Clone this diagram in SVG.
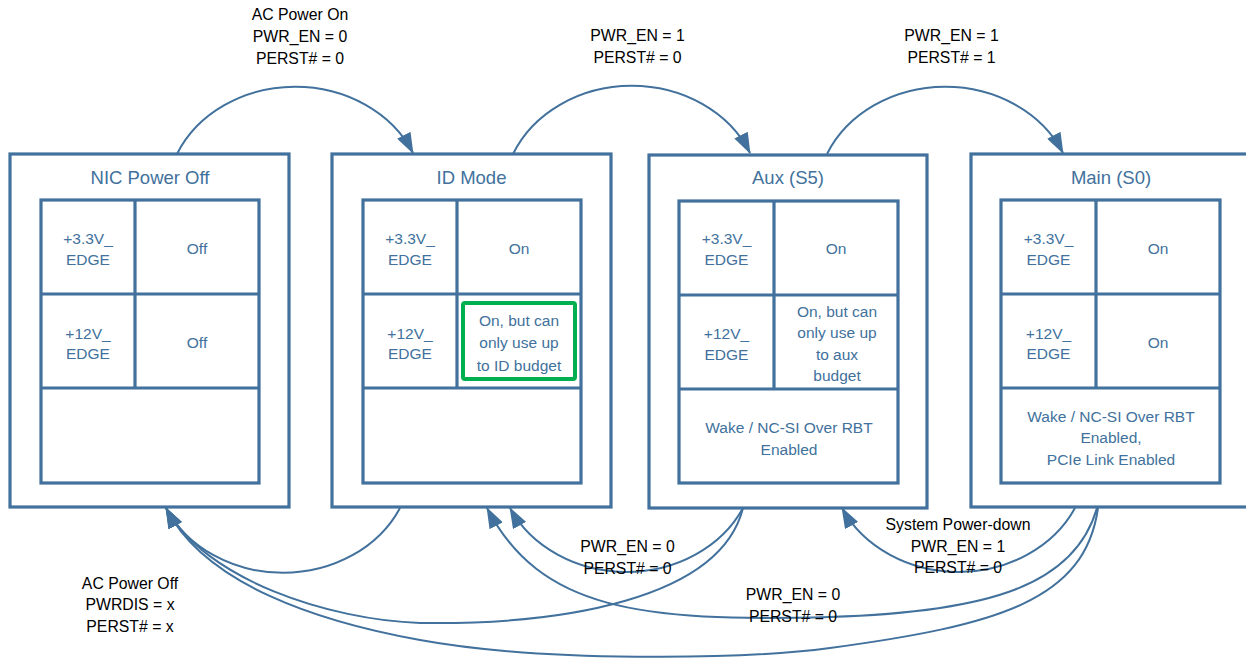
<svg xmlns="http://www.w3.org/2000/svg" width="1246" height="660" viewBox="0 0 1246 660">
<style>
.outer{fill:#fff;stroke:#41719C;stroke-width:3.2}
.inner{fill:none;stroke:#41719C;stroke-width:3.2}
.title{font-family:"Liberation Sans",Arial,sans-serif;font-size:18.5px;fill:#41719C;text-anchor:middle}
.cell{font-family:"Liberation Sans",Arial,sans-serif;font-size:15.5px;fill:#41719C;text-anchor:middle}
.lbl{font-family:"Liberation Sans",Arial,sans-serif;font-size:15.8px;fill:#000;text-anchor:middle}
.conn{fill:none;stroke:#41719C;stroke-width:2;marker-end:url(#arr)}
</style>
<defs>
<marker id="arr" markerUnits="userSpaceOnUse" markerWidth="21" markerHeight="15" refX="20" refY="7.5" orient="auto">
<path d="M0,0 L21,7.5 L0,15 z" fill="#41719C"/>
</marker>
</defs>
<rect width="1246" height="660" fill="#fff"/>

<g id="node-nic-power-off">
<rect class="outer" x="10" y="154" width="279" height="353"/>
<rect class="inner" x="41" y="200" width="218" height="283"/>
<path class="inner" d="M135,200 V388 M41,294 H259 M41,388 H259"/>
<text class="title" x="150" y="184">NIC Power Off</text>
<text class="cell" x="88" y="244">+3.3V_</text>
<text class="cell" x="88" y="265">EDGE</text>
<text class="cell" x="197" y="254">Off</text>
<text class="cell" x="88" y="339">+12V_</text>
<text class="cell" x="88" y="359">EDGE</text>
<text class="cell" x="197" y="348">Off</text>
</g>

<g id="node-id-mode">
<rect class="outer" x="332" y="154" width="279" height="353"/>
<rect class="inner" x="363" y="200" width="218" height="283"/>
<path class="inner" d="M457,200 V388 M363,294 H581 M363,388 H581"/>
<text class="title" x="471.5" y="184">ID Mode</text>
<text class="cell" x="410" y="244">+3.3V_</text>
<text class="cell" x="410" y="265">EDGE</text>
<text class="cell" x="519" y="254">On</text>
<text class="cell" x="410" y="339">+12V_</text>
<text class="cell" x="410" y="359">EDGE</text>
<rect x="463" y="303" width="112" height="76" rx="2" fill="#fff" stroke="#00B050" stroke-width="4"/>
<text class="cell" x="519" y="326">On, but can</text>
<text class="cell" x="519" y="348">only use up</text>
<text class="cell" x="519" y="371">to ID budget</text>
</g>

<g id="node-aux-s5">
<rect class="outer" x="649" y="155" width="278" height="353"/>
<rect class="inner" x="679" y="201" width="219" height="282"/>
<path class="inner" d="M774,201 V389 M679,295 H898 M679,389 H898"/>
<text class="title" x="788" y="184">Aux (S5)</text>
<text class="cell" x="726.5" y="244">+3.3V_</text>
<text class="cell" x="726.5" y="265">EDGE</text>
<text class="cell" x="836" y="254">On</text>
<text class="cell" x="726.5" y="339">+12V_</text>
<text class="cell" x="726.5" y="360">EDGE</text>
<text class="cell" x="837" y="316.5">On, but can</text>
<text class="cell" x="837" y="338">only use up</text>
<text class="cell" x="837" y="360">to aux</text>
<text class="cell" x="837" y="381">budget</text>
<text class="cell" x="789" y="433">Wake / NC-SI Over RBT</text>
<text class="cell" x="789" y="455">Enabled</text>
</g>

<g id="node-main-s0">
<rect class="outer" x="971" y="154" width="279" height="353"/>
<rect class="inner" x="1001" y="200" width="219" height="283"/>
<path class="inner" d="M1096,200 V388 M1001,294 H1220 M1001,388 H1220"/>
<text class="title" x="1111" y="184">Main (S0)</text>
<text class="cell" x="1048.5" y="244">+3.3V_</text>
<text class="cell" x="1048.5" y="265">EDGE</text>
<text class="cell" x="1158" y="254">On</text>
<text class="cell" x="1048.5" y="339">+12V_</text>
<text class="cell" x="1048.5" y="359">EDGE</text>
<text class="cell" x="1158" y="348">On</text>
<text class="cell" x="1111" y="421.5">Wake / NC-SI Over RBT</text>
<text class="cell" x="1111" y="443">Enabled,</text>
<text class="cell" x="1111" y="465">PCIe Link Enabled</text>
</g>

<g id="connectors">
<path class="conn" d="M177,154 A129,112 0 0 1 413,153"/>
<path class="conn" d="M513,154 A129,112 0 0 1 750,153"/>
<path class="conn" d="M827,154 A129,112 0 0 1 1063,153"/>
<path class="conn" d="M400,508 A129,112 0 0 1 166,508"/>
<path class="conn" d="M743,508 C720,600 560,625 420,623 C330,620 205,580 166,508"/>
<path class="conn" d="M1098,508 C1085,600 1000,625 830,648 C740,660 540,662 420,640 C320,622 205,585 166,508"/>
<path class="conn" d="M743,508 A129,112 0 0 1 510,508"/>
<path class="conn" d="M1097,508 C1075,585 990,612 830,617 C640,622 540,610 487,508"/>
<path class="conn" d="M1075,508 A129,112 0 0 1 842,508"/>
</g>

<g id="labels">
<text class="lbl" x="300" y="20">AC Power On</text>
<text class="lbl" x="300" y="42">PWR_EN = 0</text>
<text class="lbl" x="300" y="63.5">PERST# = 0</text>
<text class="lbl" x="637.5" y="41">PWR_EN = 1</text>
<text class="lbl" x="637.5" y="63">PERST# = 0</text>
<text class="lbl" x="951.5" y="41">PWR_EN = 1</text>
<text class="lbl" x="951.5" y="63">PERST# = 1</text>
<text class="lbl" x="130" y="588.5">AC Power Off</text>
<text class="lbl" x="130" y="610">PWRDIS = x</text>
<text class="lbl" x="130" y="632">PERST# = x</text>
<text class="lbl" x="627.5" y="551.5">PWR_EN = 0</text>
<text class="lbl" x="627.5" y="573.5">PERST# = 0</text>
<text class="lbl" x="793" y="600">PWR_EN = 0</text>
<text class="lbl" x="793" y="621.5">PERST# = 0</text>
<text class="lbl" x="958" y="530">System Power-down</text>
<text class="lbl" x="958" y="551.5">PWR_EN = 1</text>
<text class="lbl" x="958" y="573">PERST# = 0</text>
</g>
</svg>
